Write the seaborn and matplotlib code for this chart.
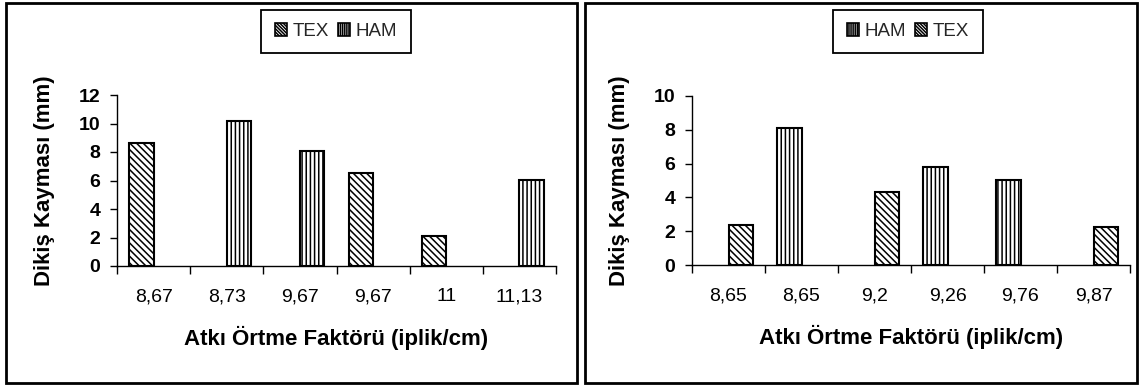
import numpy as np
import pandas as pd
import matplotlib
matplotlib.use("Agg")
import matplotlib.pyplot as plt
from matplotlib.patches import Patch, Rectangle
from matplotlib.ticker import FixedLocator, NullFormatter
import seaborn as sns

# ---------------- data ----------------
left_labels = ["8,67", "8,73", "9,67", "9,67", "11", "11,13"]
left_tex = [8.66, np.nan, np.nan, 6.52, 2.12, np.nan]
left_ham = [np.nan, 10.19, 8.07, np.nan, np.nan, 6.05]

right_labels = ["8,65", "8,65", "9,2", "9,26", "9,76", "9,87"]
right_ham = [np.nan, 8.09, np.nan, 5.80, 5.03, np.nan]
right_tex = [2.37, np.nan, 4.30, np.nan, np.nan, 2.27]

left_yticks = [0, 2, 4, 6, 8, 10, 12]
right_yticks = [0, 2, 4, 6, 8, 10]

xlabel = "Atkı Örtme Faktörü (iplik/cm)"
ylabel = "Dikiş Kayması (mm)"

HATCH = {"TEX": "\\\\\\\\\\", "HAM": "||||"}

sns.set_theme(style="white")
plt.rcParams["font.family"] = ["Liberation Sans", "DejaVu Sans"]
plt.rcParams["hatch.linewidth"] = 1.1
plt.rcParams["hatch.color"] = "black"

W, H = 1141, 387
fig = plt.figure(figsize=(W / 100, H / 100), dpi=100)


def px_axes(x0, x1, ytop, ybot):
    return fig.add_axes([x0 / W, 1 - ybot / H, (x1 - x0) / W, (ybot - ytop) / H])


def panel(ax, labels, series, order, yticks, legend_cx):
    n = len(labels)
    rows = []
    for name in order:
        for i, v in enumerate(series[name]):
            rows.append({"pos": i, "series": name, "value": v})
    df = pd.DataFrame(rows).dropna()
    sns.barplot(data=df, x="pos", y="value", hue="series", hue_order=order,
                order=list(range(n)), palette={k: "white" for k in order},
                edgecolor="black", linewidth=1.5, width=0.66, saturation=1,
                dodge=True, legend=False, ax=ax, err_kws={"linewidth": 0})
    for cont, name in zip(ax.containers, order):
        for bar in cont:
            bar.set_hatch(HATCH[name])
    ax.set_xlim(-0.5, n - 0.5)
    ax.set_ylim(0, yticks[-1])
    ax.set_yticks(yticks)
    ax.set_yticklabels([str(t) for t in yticks], fontsize=14, fontweight="bold")
    # category boundary ticks (Excel style) and centred labels
    ax.xaxis.set_major_locator(FixedLocator(np.arange(-0.5, n, 1.0)))
    ax.xaxis.set_major_formatter(NullFormatter())
    ax.xaxis.set_minor_locator(FixedLocator(np.arange(n)))
    ax.set_xticklabels(labels, minor=True, fontsize=14)
    ax.tick_params(axis="x", which="major", direction="out", length=6, width=1,
                   color="black", bottom=True)
    ax.tick_params(axis="x", which="minor", length=0, pad=16, labelcolor="black")
    ax.tick_params(axis="y", direction="out", length=5, width=1, color="black",
                   left=True, pad=7, labelcolor="black")
    for s in ["top", "right"]:
        ax.spines[s].set_visible(False)
    for s in ["left", "bottom"]:
        ax.spines[s].set_color("black")
        ax.spines[s].set_linewidth(1.0)
    ax.set_xlabel(xlabel, fontsize=16, fontweight="bold", labelpad=15, color="black")
    ax.set_ylabel(ylabel, fontsize=16, fontweight="bold", labelpad=17, color="black")
    handles = [Patch(facecolor="white", edgecolor="black", hatch=HATCH[k] * 2,
                     linewidth=1.2, label=k) for k in order]
    leg = fig.legend(handles=handles, loc="upper center", ncol=len(order),
                     bbox_to_anchor=(legend_cx / W, 1 - 10 / H),
                     bbox_transform=fig.transFigure, frameon=True, fancybox=False,
                     fontsize=13.5, handlelength=0.65, handleheight=0.65,
                     handletextpad=0.3, columnspacing=0.5, borderpad=0.7,
                     borderaxespad=0, edgecolor="black", framealpha=1)
    leg.get_frame().set_linewidth(1.3)


axL = px_axes(117, 556, 95, 266)
panel(axL, left_labels, {"TEX": left_tex, "HAM": left_ham}, ["TEX", "HAM"],
      left_yticks, 336)

axR = px_axes(692, 1130, 96, 265)
panel(axR, right_labels, {"HAM": right_ham, "TEX": right_tex}, ["HAM", "TEX"],
      right_yticks, 908)

# panel borders
for x0, x1 in [(6, 577), (585, 1137)]:
    fig.add_artist(Rectangle((x0 / W, 1 - 383 / H), (x1 - x0) / W, 380 / H,
                             transform=fig.transFigure, fill=False,
                             edgecolor="black", linewidth=2))

fig.savefig("out.png", dpi=100, facecolor="white")
